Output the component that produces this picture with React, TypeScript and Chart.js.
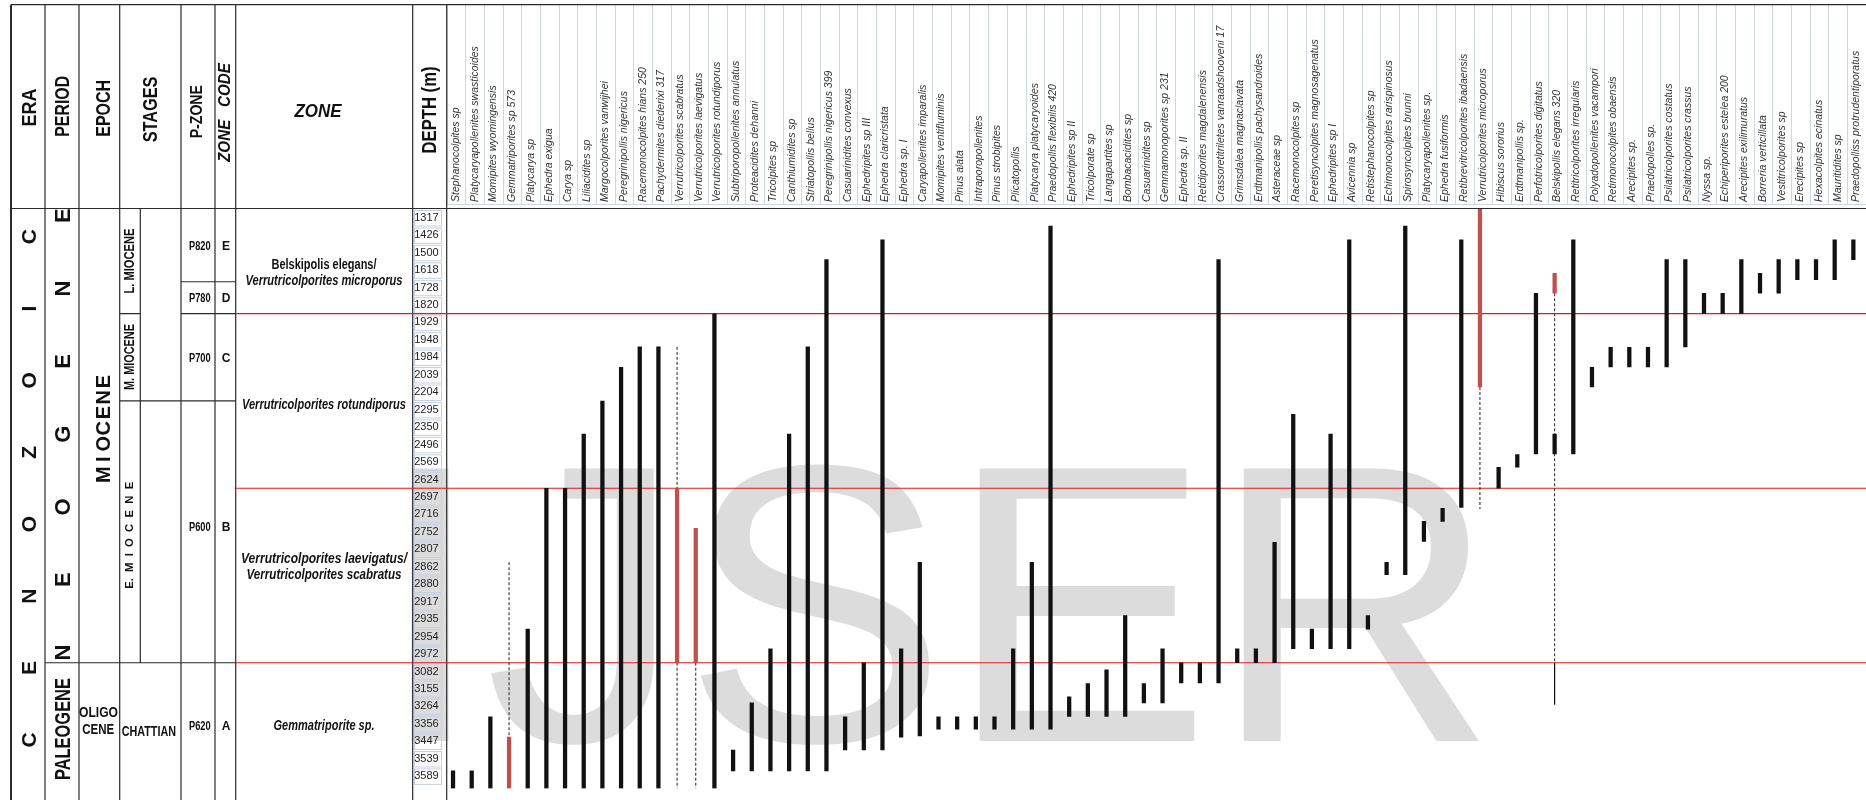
import React, { useEffect, useRef } from 'react';
import { Chart, registerables } from 'chart.js';

Chart.register(...registerables);

// ---------- DATA ----------
const species = [
  'Stephanocolpites sp', 'Platycaryapollenites swasticoides', 'Momipites wyomingensis', 'Gemmatriporites sp 573',
  'Platycarya sp', 'Ephedra exigua', 'Carya sp', 'Liliacidites sp', 'Margocolporites vanwijhei',
  'Peregrinipollis nigericus', 'Racemonocolpites hians 250', 'Pachydermites diederixi 317',
  'Verrutricolporites scabratus', 'Verrutricolporites laevigatus', 'Verrutricolporites rotundiporus',
  'Subtriporopollenites annulatus', 'Proteacidites dehanni', 'Tricolpites sp', 'Canthiumidites sp',
  'Striatopollis bellus', 'Peregrinipollis nigericus 399', 'Casuarinidites convexus', 'Ephedripites sp III',
  'Ephedra claricristata', 'Ephedra sp. I', 'Caryapollenites imparalis', 'Momipites ventifluminis',
  'Pinus alata', 'Intraporopollenites', 'Pinus strobipites', 'Plicatopollis', 'Platycarya platycaryoides',
  'Praedopollis flexibilis 420', 'Ephedripites sp II', 'Tricolporate sp', 'Langapartites sp',
  'Bombacacidites sp', 'Casuarinidites sp', 'Gemmamonoporites sp 231', 'Ephedra sp. II',
  'Retidiporites magdalenensis', 'Crassoretitriletes vanraadshooveni 17', 'Grimsdalea magnaclavata',
  'Erdtmanipollis pachysandroides', 'Asteraceae sp', 'Racemonocolpites sp', 'Peretisyncolpites magnosagenatus',
  'Ephedripites sp I', 'Avicennia sp', 'Retistephanocolpites sp', 'Echimonocolpites rarispinosus',
  'Spirosyncolpites brunni', 'Platycaryapollenites sp.', 'Ephedra fusiformis',
  'Retibrevitricolporites ibadaensis', 'Verrutricolporites microporus', 'Hibiscus sororius',
  'Erdtmanipollis sp.', 'Perfotricolporites digitatus', 'Belskipollis elegans 320',
  'Retitricolporites irregularis', 'Polyadopollenites vacampori', 'Retimonocolpites obaensis',
  'Arecipites sp.', 'Praedopolles sp.', 'Psilatricolporites costatus', 'Psilatricolporites crassus',
  'Nyssa sp.', 'Echiperiporites estelea 200', 'Arecipites exilimuratus', 'Borreria verticillata',
  'Vestitricolporites sp', 'Erecipites sp', 'Hexacolpites ecinatus', 'Mauritidites sp',
  'Praedopolliss protrudentiporatus',
];

const depthLabels = [
  '1317', '1426', '1500', '1618', '1728', '1820', '1929', '1948', '1984', '2039', '2204', '2295',
  '2350', '2496', '2569', '2624', '2697', '2716', '2752', '2807', '2862', '2880', '2917', '2935',
  '2954', '2972', '3082', '3155', '3264', '3356', '3447', '3539', '3589',
];

// range tops / bases in sample-row units (0 = top of 1317 row)
const rangeTop = [
  32.2, 32.2, 29.1, null, 24.07, 16, 16, 12.9, 11, 9.07, 7.9, 7.9, null, null, 6, 31, 28.3, 25.2, 12.9,
  7.9, 2.9, 29.1, 26, 1.76, 25.2, 20.24, 29.1, 29.1, 29.1, 29.1, 25.2, 20.24, 0.98, 27.95, 27.2, 26.4,
  23.3, 27.2, 25.2, 26, 26, 2.9, 25.2, 25.2, 19.1, 11.76, 24.07, 12.9, 1.76, 23.3, 20.24, 0.98, 17.9,
  17.15, 1.76, null, 14.8, 14.07, 4.83, 12.9, 1.76, 9.07, 7.93, 7.93, 7.93, 2.9, 2.9, 4.83, 4.83, 2.9,
  3.68, 2.9, 2.9, 2.9, 1.76, 1.76,
];
const rangeBase = [
  33.2, 33.2, 33.2, null, 33.2, 33.2, 33.2, 33.2, 33.2, 33.2, 33.2, 33.2, null, null, 33.2, 32.2, 32.2,
  32.2, 32.2, 32.2, 32.2, 31, 31, 31, 30.26, 30.2, 29.8, 29.8, 29.8, 29.8, 29.8, 29.8, 29.8, 29.07,
  29.07, 29.07, 29.07, 28.3, 28.3, 27.15, 27.15, 27.15, 26, 26, 26, 25.2, 25.2, 25.2, 25.2, 24.07,
  20.96, 20.96, 19.05, 17.9, 17.1, null, 16, 14.8, 14.03, 14.03, 14.03, 10.2, 9.05, 9.05, 9.05, 9.05,
  7.9, 5.98, 5.98, 5.98, 4.83, 4.83, 4.05, 4.05, 4.05, 2.9,
];

// zone-marker ranges (red)
const markerCols = [3, 12, 13, 55, 59];
const markerTop = [30.26, 16, 18.3, 0, 3.68];
const markerBase = [33.2, 26, 26, 10.2, 4.83];

// uncertain (dashed) ranges
const dashedCols = [3, 12, 12, 13, 55, 59];
const dashedTop = [20.24, 7.9, 26, 26, 10.2, 4.83];
const dashedBase = [30.26, 16, 33.2, 33.2, 17.2, 26];

// thin solid extension
const thinCols = [59];
const thinTop = [26];
const thinBase = [28.4];

const zoneBoundaries = [6, 16, 26];

const pZones = [
  { name: 'P820', code: 'E', base: 4.17, at: 2.12 },
  { name: 'P780', code: 'D', base: 6, at: 5.11 },
  { name: 'P700', code: 'C', base: 11, at: 8.54 },
  { name: 'P600', code: 'B', base: 26, at: 18.2 },
  { name: 'P620', code: 'A', base: 33.2, at: 29.6 },
];

const zoneLines = [
  { text: 'Belskipolis elegans/', italic: false, at: 3.15, width: 105 },
  { text: 'Verrutricolporites microporus', italic: true, at: 4.06, width: 157 },
  { text: 'Verrutricolporites rotundiporus', italic: true, at: 11.18, width: 164 },
  { text: 'Verrutricolporites laevigatus/', italic: true, at: 20.02, width: 166 },
  { text: 'Verrutricolporites scabratus', italic: true, at: 20.92, width: 155 },
  { text: 'Gemmatriporite sp.', italic: true, at: 29.55, width: 101 },
];

// ---------- STYLE ----------
const SANS = "'Liberation Sans', Arial, sans-serif";
const TOP = 4.7;
const HEAD = 208.5;
const C = { outer: 11, era: 45, period: 79, epoch: 119.7, split: 140.3, stages: 181, pz: 215, code: 235.7, zone: 412.7, depth: 446.7 };

function txt(ctx: CanvasRenderingContext2D, s: string, cx: number, cy: number, size: number, style: string, width?: number, rotate?: boolean) {
  ctx.save();
  ctx.font = `${style} ${size}px ${SANS}`;
  ctx.translate(cx, cy);
  if (rotate) ctx.rotate(-Math.PI / 2);
  if (width) {
    const w = ctx.measureText(s).width;
    ctx.scale(width / w, 1);
  }
  ctx.textAlign = 'center';
  ctx.textBaseline = 'alphabetic';
  ctx.fillStyle = '#111';
  ctx.fillText(s, 0, size * 0.36);
  ctx.restore();
}

function spaced(ctx: CanvasRenderingContext2D, s: string, cx: number, cy: number, size: number, step: number) {
  const n = s.length;
  for (let k = 0; k < n; k++) {
    const py = cy + ((n - 1) / 2) * step - k * step;
    txt(ctx, s[k], cx, py, size, 'bold', undefined, true);
  }
}

const tablePlugin = {
  id: 'rangeTable',
  beforeDraw(chart: any) {
    const { ctx, width, height } = chart;
    const x = chart.scales.x;
    const y = chart.scales.y;
    const ry = (v: number) => y.getPixelForValue(v);
    ctx.save();
    ctx.fillStyle = '#fff';
    ctx.fillRect(0, 0, width, height);

    // watermark
    ctx.fillStyle = '#dcdcdc';
    ctx.font = `396px ${SANS}`;
    ctx.textAlign = 'left';
    ctx.textBaseline = 'alphabetic';
    ctx.fillText('IJSER', 375, 741);

    // species header cells
    const cw = (x.right - x.left) / species.length;
    ctx.strokeStyle = '#cfd6e3';
    ctx.lineWidth = 1;
    ctx.beginPath();
    for (let k = 0; k <= species.length; k++) {
      const px = Math.round(x.left + k * cw + 3) + 0.5;
      ctx.moveTo(px, TOP);
      ctx.lineTo(px, 204.5);
    }
    ctx.moveTo(C.depth, 204.5);
    ctx.lineTo(width, 204.5);
    ctx.stroke();

    // depth boxes
    ctx.strokeStyle = '#c7d0df';
    depthLabels.forEach((_, i) => {
      ctx.strokeRect(414.5, ry(i) + 1.5, 27, ry(i + 1) - ry(i) - 2);
    });

    // dark table lines
    ctx.strokeStyle = '#2b2b2b';
    ctx.lineWidth = 1.2;
    const hl = (x1: number, x2: number, yy: number) => { ctx.moveTo(x1, yy); ctx.lineTo(x2, yy); };
    const vl = (xx: number, y1: number, y2: number) => { ctx.moveTo(xx, y1); ctx.lineTo(xx, y2); };
    ctx.beginPath();
    [C.outer, C.era, C.period, C.epoch, C.stages, C.pz, C.code, C.zone, C.depth].forEach((xx) => vl(xx, TOP, height));
    vl(C.split, HEAD, ry(26));
    hl(C.outer, width, TOP);
    hl(C.outer, width, HEAD);
    hl(C.era, C.code, ry(26));
    hl(C.epoch, C.code, ry(11));
    hl(C.epoch, C.split, ry(6));
    pZones.slice(0, -1).forEach((p) => hl(C.stages, C.code, ry(p.base)));
    ctx.stroke();
    ctx.lineWidth = 2;
    ctx.beginPath();
    vl(C.outer, TOP, height);
    ctx.stroke();

    // header texts
    txt(ctx, 'ERA', 28, 107.5, 21, 'bold', 38, true);
    txt(ctx, 'PERIOD', 61.7, 106.3, 21, 'bold', 61, true);
    txt(ctx, 'EPOCH', 102.5, 108.3, 21, 'bold', 57, true);
    txt(ctx, 'STAGES', 149.2, 109.5, 21, 'bold', 65.7, true);
    txt(ctx, 'P-ZONE', 195.8, 111.7, 17, 'bold', 53.3, true);
    txt(ctx, 'ZONE   CODE', 224, 112.5, 17, 'italic bold', 99, true);
    txt(ctx, 'ZONE', 318, 110, 19, 'italic bold', 47);
    txt(ctx, 'DEPTH (m)', 428.3, 110, 20, 'bold', 87, true);

    // era / period / epoch / stages
    spaced(ctx, 'CENOZOIC', 28.3, ry(16.0), 21, 71.9);
    spaced(ctx, 'NEOGENE', 61.7, ry(12.9), 22, 72.8);
    txt(ctx, 'PALEOGENE', 61.7, ry(29.8), 22, 'bold', 102, true);
    spaced(ctx, 'MIOCENE', 102.5, ry(12.56), 20, 15.5);
    txt(ctx, 'L. MIOCENE', 129.4, ry(2.98), 14, 'bold', 65, true);
    txt(ctx, 'M. MIOCENE', 129.4, ry(8.48), 14, 'bold', 66, true);
    txt(ctx, 'E.  M  I  O  C  E  N  E', 129.6, ry(18.7), 10.5, 'bold', 107, true);
    txt(ctx, 'OLIGO', 98.5, ry(28.8), 15, 'bold', 39);
    txt(ctx, 'CENE', 98.2, ry(29.8), 15, 'bold', 32);
    txt(ctx, 'CHATTIAN', 148.8, ry(29.9), 15, 'bold', 54.3);

    pZones.forEach((p) => {
      txt(ctx, p.name, 199.8, ry(p.at), 12, 'bold', 21.7);
      txt(ctx, p.code, 226, ry(p.at), 12, 'bold');
    });
    zoneLines.forEach((z) => {
      txt(ctx, z.text, 324, ry(z.at), 14, z.italic ? 'italic bold' : 'bold', z.width);
    });
    ctx.restore();
  },
  beforeDatasetsDraw(chart: any) {
    const { ctx, width } = chart;
    const y = chart.scales.y;
    ctx.save();
    ctx.strokeStyle = '#e01b1b';
    ctx.lineWidth = 1.2;
    ctx.beginPath();
    zoneBoundaries.forEach((b) => {
      const py = y.getPixelForValue(b);
      ctx.moveTo(C.code, py);
      ctx.lineTo(width, py);
    });
    ctx.stroke();
    ctx.restore();
  },
};

function segments(cols: number[], tops: number[], bases: number[]) {
  return cols.flatMap((c, k) => [
    { x: species[c], y: tops[k] },
    { x: species[c], y: bases[k] },
    { x: species[c], y: null },
  ]);
}

export default function App() {
  const ref = useRef<HTMLCanvasElement>(null);
  useEffect(() => {
    const canvas = ref.current!;
    const blackData = species.map((_, i) => (rangeTop[i] == null ? null : [rangeTop[i], rangeBase[i]]));
    const redData: any[] = species.map(() => null);
    markerCols.forEach((c, k) => { redData[c] = [markerTop[k], markerBase[k]]; });

    const chart = new Chart(canvas, {
      type: 'bar',
      data: {
        labels: species,
        datasets: [
          { type: 'bar', data: blackData as any, backgroundColor: '#111', barThickness: 3.6, grouped: false, borderWidth: 0, order: 0 } as any,
          { type: 'bar', data: redData, backgroundColor: '#c0504d', barThickness: 3.6, grouped: false, borderWidth: 0, order: 1 } as any,
          { type: 'line', data: segments(dashedCols, dashedTop, dashedBase) as any, borderColor: '#222', borderWidth: 1, borderDash: [3, 2], pointRadius: 0, spanGaps: false, fill: false, order: 2 } as any,
          { type: 'line', data: segments(thinCols, thinTop, thinBase) as any, borderColor: '#111', borderWidth: 1.2, pointRadius: 0, spanGaps: false, fill: false, order: 2 } as any,
        ],
      },
      options: {
        animation: false,
        responsive: false,
        maintainAspectRatio: false,
        events: [],
        layout: { padding: { left: 410.7, right: 3.3, top: 0, bottom: 0 } },
        plugins: { legend: { display: false }, tooltip: { enabled: false } },
        scales: {
          x: {
            position: 'top',
            offset: true,
            grid: { display: false, drawTicks: false },
            border: { display: false },
            ticks: {
              autoSkip: false,
              minRotation: 90,
              maxRotation: 90,
              padding: 7,
              labelOffset: 15.5,
              color: '#333',
              font: { family: SANS, size: 10.5, style: 'italic' },
            },
            afterFit: (s: any) => { s.height = 209; },
          },
          y: {
            position: 'left',
            min: 0,
            max: 33.2,
            reverse: true,
            grid: { display: false, drawTicks: false },
            border: { display: false },
            afterBuildTicks: (s: any) => { s.ticks = depthLabels.map((_, i) => ({ value: i + 0.5 })); },
            ticks: {
              autoSkip: false,
              padding: 5,
              crossAlign: 'center',
              color: '#222',
              font: { family: SANS, size: 11 },
              callback: (_v: any, i: number) => depthLabels[i],
            },
            afterFit: (s: any) => { s.width = 33; },
          },
        },
      } as any,
      plugins: [tablePlugin],
    });
    return () => chart.destroy();
  }, []);

  return (
    <div style={{ position: 'fixed', left: 0, top: 0, width: 1866, height: 800, background: '#fff' }}>
      <canvas ref={ref} width={1866} height={800} style={{ display: 'block', width: 1866, height: 800 }} />
    </div>
  );
}
